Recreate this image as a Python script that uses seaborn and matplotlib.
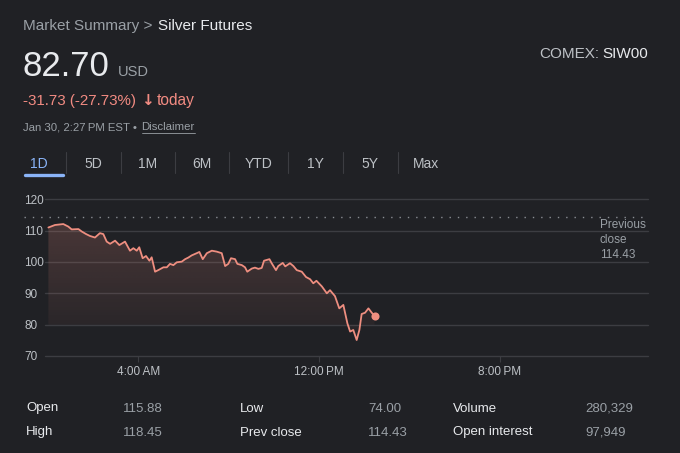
import numpy as np
import seaborn as sns
import matplotlib.pyplot as plt
from matplotlib.colors import to_rgb

# intraday prices, hours after midnight (Jan 30)
hours = [0.02, 0.31, 0.68, 0.90, 1.05, 1.35, 1.50, 1.69, 1.86, 2.08, 2.30, 2.45,
         2.60, 2.75, 2.97, 3.16, 3.41, 3.63, 3.78, 3.93, 4.04, 4.19, 4.34, 4.49,
         4.59, 4.74, 4.88, 5.11, 5.26, 5.40, 5.55, 5.70, 5.92, 6.07, 6.21, 6.36,
         6.58, 6.70, 6.85, 7.03, 7.25, 7.47, 7.69, 7.84, 7.98, 8.10, 8.28, 8.38,
         8.58, 8.72, 8.82, 9.02, 9.16, 9.31, 9.46, 9.56, 9.80, 9.90, 10.09, 10.19,
         10.39, 10.50, 10.71, 10.86, 11.01, 11.23, 11.42, 11.60, 11.74, 11.88, 12.12,
         12.34, 12.48, 12.70, 12.89, 13.07, 13.25, 13.37, 13.51, 13.66, 13.78, 13.88,
         14.03, 14.18, 14.33, 14.45]
prices = [111.0, 111.8, 112.1, 111.3, 110.4, 110.5, 109.7, 108.9, 108.3, 107.8, 109.2, 108.9,
          106.5, 105.8, 106.8, 105.4, 106.5, 103.6, 104.4, 103.6, 104.7, 101.2, 101.9, 100.4,
          101.5, 96.9, 97.4, 98.3, 98.3, 99.4, 99.0, 99.9, 100.1, 100.9, 101.4, 102.1,
          102.8, 103.2, 100.9, 102.8, 103.6, 103.3, 102.8, 98.7, 99.4, 101.2, 100.9, 99.4,
          99.0, 98.3, 96.9, 97.9, 98.2, 97.8, 98.1, 100.4, 100.9, 99.6, 97.4, 98.7,
          99.7, 98.6, 99.6, 98.7, 97.4, 96.9, 95.2, 94.5, 93.2, 94.0, 92.2,
          90.0, 91.0, 89.1, 85.2, 86.3, 80.4, 77.8, 78.3, 75.1, 78.3, 83.4,
          83.8, 85.2, 83.8, 82.7]
prev_close = 114.43

y_ticks = [70, 80, 90, 100, 110, 120]
x_ticks = [4, 12, 20]
x_labels = ["4:00\u2009AM", "12:00\u2009PM", "8:00\u2009PM"]
tabs = ["1D", "5D", "1M", "6M", "YTD", "1Y", "5Y", "Max"]

stats_left = [("Open", "115.88"), ("High", "118.45")]
stats_mid = [("Low", "74.00"), ("Prev close", "114.43")]
stats_right = [("Volume", "280,329"), ("Open interest", "97,949")]

BG = "#202125"
WHITE = "#e8eaed"
GRAY = "#9aa0a6"
LIGHT = "#bdc1c6"
RED = "#f28b82"
LINE = "#ee8e80"
BLUE = "#8ab4f8"
GRID = "#3c3d42"

sns.set_theme(style="dark", rc={"figure.facecolor": BG, "axes.facecolor": BG})
plt.rcParams["font.family"] = ["Liberation Sans", "DejaVu Sans"]

W, H = 680, 453
fig = plt.figure(figsize=(W / 100, H / 100), dpi=100)


def px(x, y):
    return x / W, 1 - y / H


# header
fig.text(*px(23, 30), "Market Summary >", color=GRAY, fontsize=11)
fig.text(*px(157.5, 30), "Silver Futures", color=WHITE, fontsize=11)
fig.text(*px(539, 58), "COMEX:", color=LIGHT, fontsize=11)
fig.text(*px(648, 58), "SIW00", color=WHITE, fontsize=11, ha="right")
fig.text(*px(22, 76.5), "82.70", color=WHITE, fontsize=25)
fig.text(*px(118, 76.5), "USD", color=GRAY, fontsize=10.5)
fig.text(*px(23, 105), "-31.73 (-27.73%)", color=RED, fontsize=10.9)
fig.text(*px(147.5, 105), "\u2193", color=RED, fontsize=11, ha="center",
         fontweight="bold", family=["DejaVu Sans"])
fig.text(*px(157, 105), "today", color=RED, fontsize=11.2)
fig.text(*px(23, 130), "Jan 30, 2:27\u2009PM EST \u2022", color=GRAY, fontsize=8.2)
disc = fig.text(*px(141.5, 130), "Disclaimer", color=GRAY, fontsize=8.2)

# range tabs
tab_x = [38.5, 93, 147.7, 201.7, 259, 315, 370, 426]
sep_x = [65.7, 120.7, 175, 229.3, 288.3, 342.7, 397.7]
for name, x in zip(tabs, tab_x):
    fig.text(*px(x, 167.5), name, color=BLUE if name == "1D" else LIGHT,
             fontsize=10, ha="center")
for x in sep_x:
    fig.add_artist(plt.Line2D([x / W, x / W], [1 - 152 / H, 1 - 173 / H],
                              color=GRID, lw=0.8))
fig.add_artist(plt.Line2D([25 / W, 63 / W], [1 - 175 / H, 1 - 175 / H],
                          color=BLUE, lw=2.4, solid_capstyle="round"))

# chart
ax = fig.add_axes([45 / W, 1 - 356 / H, 603 / W, (356 - 199.3) / H])
ax.set_facecolor(BG)

fill = ax.fill_between(hours, prices, 80, color="none", lw=0)
grad = np.zeros((256, 1, 4))
grad[..., :3] = to_rgb(LINE)
grad[:, 0, 3] = np.linspace(0.03, 0.2, 256)
im = ax.imshow(grad, extent=[hours[0], hours[-1], min(prices), max(prices)],
               origin="lower", aspect="auto", zorder=1, interpolation="bilinear")
im.set_clip_path(fill.get_paths()[0], transform=ax.transData)

sns.lineplot(x=hours, y=prices, ax=ax, color=LINE, lw=1.3, zorder=3)
ax.scatter([hours[-1]], [prices[-1]], s=34, color=LINE, zorder=4, lw=0)

ax.axhline(prev_close, xmin=-0.035, xmax=1, color="#8a8d93", lw=1.0,
           ls=(0, (1, 5)), clip_on=False, zorder=2)

ax.set_xlim(-0.13, 26.55)
ax.set_ylim(70, 120)
ax.set_yticks(y_ticks)
ax.set_yticklabels([str(v) for v in y_ticks])
ax.set_xticks(x_ticks)
ax.set_xticklabels(x_labels)
ax.grid(False)
for v in y_ticks:
    ax.axhline(v, color=GRID, lw=1.0, clip_on=False, zorder=0.5)
ax.tick_params(axis="y", length=0, pad=15, labelsize=8.5, labelcolor=LIGHT)
for lab in ax.get_yticklabels():
    lab.set_horizontalalignment("left")
ax.tick_params(axis="x", length=4, width=0.8, color=GRID, direction="out",
               pad=3, labelsize=8.5, labelcolor=LIGHT, bottom=True)
for s in ax.spines.values():
    s.set_visible(False)

fig.text(*px(600, 228), "Previous", color=GRAY, fontsize=8.5)
fig.text(*px(600, 243), "close", color=GRAY, fontsize=8.5)
fig.text(*px(600, 257.5), "114.43", color=GRAY, fontsize=8.5)

# key stats
cols = [(26, 123, stats_left), (239.5, 368, stats_mid), (453, 585, stats_right)]
for lx, vx, rows in cols:
    for (label, value), yb in zip(rows, [411.5, 435.5]):
        fig.text(*px(lx, yb), label, color=WHITE, fontsize=9.5)
        fig.text(*px(vx, yb), value, color=GRAY, fontsize=9.5)

# underline for "Disclaimer"
fig.canvas.draw()
bb = disc.get_window_extent()
fig.add_artist(plt.Line2D([bb.x0 / W, bb.x1 / W], [1 - 132.5 / H, 1 - 132.5 / H],
                          color=GRAY, lw=0.6))

fig.savefig("out.png", dpi=100, facecolor=BG)
